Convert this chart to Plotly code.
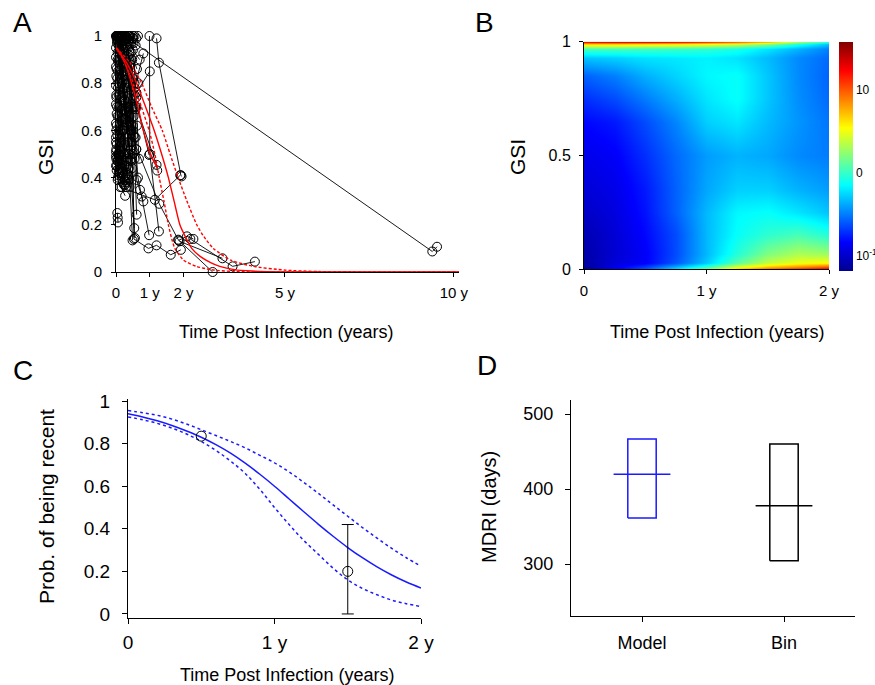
import plotly.graph_objects as go

FONT = "Liberation Sans, Arial, sans-serif"
W, H = 875, 685

# ---------------- Panel A data (time in years, GSI) ----------------
a_ind_t = [
    [0.0, 0.08, 0.2], [0.01, 0.1, 0.25], [0.02, 0.12, 0.3], [0.03, 0.15, 0.33],
    [0.05, 0.17, 0.36], [0.06, 0.2, 0.4], [0.08, 0.22, 0.42], [0.1, 0.25, 0.45],
    [0.12, 0.28, 0.48], [0.14, 0.3, 0.5], [0.16, 0.32, 0.55], [0.18, 0.35, 0.58],
    [0.2, 0.38, 0.6], [0.22, 0.4], [0.25, 0.45], [0.28, 0.5], [0.3, 0.55],
    [0.35, 0.6], [0.4, 0.5, 0.65], [0.0, 0.05, 0.15], [0.0, 0.06, 0.18],
    [0.0, 0.07, 0.2], [0.01, 0.08, 0.22], [0.0, 0.09, 0.25], [0.01, 0.1, 0.27],
    [0.0, 0.11, 0.3], [0.02, 0.12, 0.32], [0.0, 0.13, 0.34], [0.01, 0.14, 0.36],
    [0.0, 0.15, 0.38], [0.02, 0.16, 0.27], [0.0, 0.1, 0.2], [0.01, 0.08, 0.17],
    [0.0, 0.06, 0.3], [0.02, 0.05, 0.27], [0.04, 0.05, 0.06], [0.05, 0.2, 0.35],
    [0.08, 0.3, 0.45], [0.1, 0.4, 0.5],
    [0.03, 0.2, 0.4, 0.6], [0.05, 0.22, 0.45], [0.07, 0.25, 0.5], [0.02, 0.18, 0.38],
    [0.04, 0.16, 0.33], [0.06, 0.14, 0.29], [0.01, 0.12, 0.26], [0.03, 0.1, 0.23],
    [0.05, 0.09, 0.21], [0.02, 0.07, 0.19], [0.04, 0.06, 0.15], [0.0, 0.05, 0.12],
    [0.01, 0.04, 0.1], [0.0, 0.03, 0.08], [0.02, 0.09, 0.3, 0.45], [0.04, 0.11, 0.32, 0.52],
    [0.06, 0.13, 0.36, 0.57], [0.09, 0.18, 0.4], [0.11, 0.24, 0.5], [0.13, 0.27, 0.44],
    [0.15, 0.33, 0.52], [0.17, 0.37, 0.47], [0.19, 0.42, 0.6], [0.24, 0.48, 0.66],
    [0.27, 0.44, 0.62], [0.32, 0.5, 0.7], [0.38, 0.52], [0.42, 0.58],
    [0.12, 0.3, 0.4], [0.08, 0.25, 0.35], [0.2, 0.35, 0.55], [0.25, 0.4, 0.6],
    [0.3, 0.45, 0.58],
    [0.1, 0.35, 0.49], [0.15, 0.4, 0.56], [0.2, 0.45, 0.54], [0.25, 0.5, 0.61],
    [0.3, 0.55, 0.61, 0.71, 0.76, 0.81], [0.35, 0.65, 0.98], [0.99, 1.0, 1.27],
    [0.45, 0.53, 0.96, 1.2, 1.62, 1.92], [0.12, 1.15, 1.9], [1.2, 1.27, 1.92, 1.94],
    [0.55, 0.81], [0.6, 1.0], [0.35, 9.36, 9.5], [0.4, 1.28, 1.84, 2.86],
    [1.85, 2.1, 2.29], [1.88, 3.15], [2.2, 3.45, 4.11], [0.6, 1.2, 1.22],
    [0.55, 0.98], [0.5, 0.62, 0.68],
]
a_ind_gsi = [
    [1.0, 0.97, 0.92], [1.0, 0.93, 0.85], [1.0, 0.88, 0.78], [1.0, 0.84, 0.70],
    [1.0, 0.80, 0.64], [1.0, 0.76, 0.58], [1.0, 0.72, 0.52], [1.0, 0.68, 0.47],
    [1.0, 0.65, 0.44], [1.0, 0.9, 0.62], [1.0, 0.86, 0.57], [1.0, 0.95, 0.69],
    [1.0, 0.92, 0.76], [1.0, 0.98], [1.0, 0.97], [1.0, 0.99], [1.0, 1.0],
    [1.0, 0.99], [1.0, 1.0, 1.0], [0.95, 0.9, 0.82], [0.91, 0.85, 0.74],
    [0.87, 0.8, 0.66], [0.83, 0.75, 0.6], [0.79, 0.7, 0.54], [0.75, 0.66, 0.5],
    [0.71, 0.62, 0.47], [0.67, 0.58, 0.45], [0.63, 0.55, 0.48], [0.6, 0.52, 0.41],
    [0.57, 0.49, 0.39], [0.54, 0.46, 0.37], [0.51, 0.44, 0.38], [0.48, 0.42, 0.36],
    [0.45, 0.40, 0.36], [0.43, 0.39, 0.323], [0.25, 0.23, 0.21], [0.98, 0.6, 0.41],
    [0.96, 0.62, 0.48], [0.94, 0.7, 0.6],
    [0.97, 0.83, 0.66, 0.52], [0.93, 0.78, 0.55], [0.89, 0.73, 0.5], [0.86, 0.69, 0.44],
    [0.82, 0.64, 0.42], [0.78, 0.6, 0.4], [0.74, 0.57, 0.39], [0.7, 0.53, 0.37],
    [0.66, 0.5, 0.4], [0.62, 0.48, 0.42], [0.58, 0.47, 0.44], [0.55, 0.5, 0.46],
    [0.52, 0.47, 0.43], [0.49, 0.45, 0.41], [0.99, 0.9, 0.72, 0.62], [0.98, 0.86, 0.68, 0.58],
    [1.0, 0.94, 0.8, 0.7], [1.0, 0.96, 0.87], [0.99, 0.91, 0.82], [1.0, 0.89, 0.77],
    [1.0, 0.85, 0.66], [0.99, 0.8, 0.55], [1.0, 0.88, 0.74], [0.98, 0.9, 0.8],
    [1.0, 0.93, 0.86], [0.99, 0.94, 0.9], [1.0, 0.97], [1.0, 0.96],
    [0.42, 0.38, 0.36], [0.5, 0.45, 0.4], [0.6, 0.5, 0.48], [0.65, 0.55, 0.52],
    [0.7, 0.6, 0.57],
    [0.99, 0.55, 0.134], [0.97, 0.5, 0.144], [0.98, 0.6, 0.186], [0.99, 0.7, 0.243],
    [0.97, 0.8, 0.39, 0.348, 0.32, 0.299], [0.96, 0.4, 0.156], [1.0, 0.5, 0.172],
    [0.9, 0.14, 0.10, 0.113, 0.073, 0.094], [0.36, 0.306, 0.41], [0.99, 0.887, 0.41, 0.405],
    [0.78, 0.926], [0.76, 0.85], [0.99, 0.087, 0.107], [0.6, 0.289, 0.137, 0.0],
    [0.134, 0.151, 0.14], [0.13, 0.058], [0.14, 0.024, 0.044], [0.7, 0.454, 0.43],
    [0.75, 0.496], [0.99, 0.62, 0.48],
]

# red model curves in panel A
a_red_extra_t = [0.03, 0.25, 0.46, 0.65, 0.81, 0.95, 1.05, 1.2]
a_red_extra_g = [0.95, 0.89, 0.80, 0.70, 0.60, 0.53, 0.49, 0.447]
a_red_mid_t = [0.0, 0.3, 0.61, 0.9, 1.13, 1.35, 1.55, 1.72, 1.89, 2.05, 2.24, 2.5, 2.8, 3.07, 3.5, 4.0, 5.0, 10.15]
a_red_mid_g = [0.95, 0.89, 0.80, 0.69, 0.60, 0.50, 0.40, 0.30, 0.20, 0.15, 0.10, 0.065, 0.04, 0.024, 0.01, 0.004, 0.0005, 0.0]
a_red_lo_t = [0.0, 0.25, 0.51, 0.75, 0.98, 1.15, 1.28, 1.42, 1.55, 1.65, 1.74, 2.0, 2.38, 2.8, 3.5, 10.15]
a_red_lo_g = [0.95, 0.89, 0.80, 0.70, 0.60, 0.50, 0.40, 0.30, 0.20, 0.14, 0.10, 0.05, 0.024, 0.01, 0.002, 0.0]
a_red_hi_t = [0.0, 0.4, 0.76, 1.05, 1.37, 1.6, 1.84, 2.1, 2.39, 2.6, 2.88, 3.4, 4.06, 5.0, 6.0, 10.15]
a_red_hi_g = [0.95, 0.89, 0.80, 0.70, 0.60, 0.50, 0.40, 0.30, 0.20, 0.15, 0.10, 0.05, 0.024, 0.008, 0.002, 0.0]

a_xticks = [0, 1, 2, 5, 10]
a_xticktext = ["0", "1 y", "2 y", "5 y", "10 y"]
a_yticks = [0, 0.2, 0.4, 0.6, 0.8, 1]
a_yticktext = ["0", "0.2", "0.4", "0.6", "0.8", "1"]

# ---------------- Panel B data (log10 density) ----------------
b_t = [0.0, 0.25, 0.5, 0.75, 1.0, 1.25, 1.5, 1.75, 2.0]
b_gsi = [0.0, 0.01, 0.03, 0.07, 0.15, 0.25, 0.35, 0.5, 0.65, 0.75, 0.85, 0.93, 0.97, 0.99, 1.0]
b_log10 = [
    [-1.18, -0.90, -0.60, -0.20, 0.30, 0.80, 1.10, 1.30, 1.45],
    [-1.15, -0.88, -0.68, -0.35, 0.00, 0.45, 0.70, 0.85, 1.00],
    [-1.12, -0.95, -0.85, -0.60, -0.28, 0.10, 0.38, 0.50, 0.55],
    [-1.10, -0.97, -0.85, -0.63, -0.33, -0.05, 0.20, 0.32, 0.28],
    [-1.07, -0.96, -0.82, -0.63, -0.33, -0.13, -0.02, 0.05, -0.05],
    [-1.01, -0.93, -0.79, -0.57, -0.33, -0.16, -0.13, -0.21, -0.30],
    [-0.96, -0.90, -0.77, -0.57, -0.38, -0.27, -0.27, -0.35, -0.41],
    [-0.90, -0.85, -0.71, -0.55, -0.41, -0.35, -0.38, -0.46, -0.50],
    [-0.82, -0.77, -0.63, -0.47, -0.27, -0.21, -0.33, -0.43, -0.52],
    [-0.71, -0.63, -0.50, -0.36, -0.21, -0.13, -0.30, -0.45, -0.55],
    [-0.57, -0.49, -0.36, -0.26, -0.16, -0.13, -0.30, -0.46, -0.57],
    [-0.30, -0.27, -0.22, -0.20, -0.18, -0.22, -0.33, -0.46, -0.55],
    [0.05, 0.05, 0.03, 0.01, -0.02, -0.08, -0.21, -0.35, -0.49],
    [0.70, 0.70, 0.65, 0.62, 0.55, 0.45, 0.25, -0.05, -0.30],
    [1.30, 1.35, 1.35, 1.28, 1.15, 1.00, 0.75, 0.35, 0.00],
]
b_cbar_vals = [-1, 0, 1]
b_cbar_text = ["10<sup>-1</sup>", "0", "10"]
b_xticks = [0, 1, 2]
b_xticktext = ["0", "1 y", "2 y"]
b_yticks = [0, 0.5, 1]
b_yticktext = ["0", "0.5", "1"]

# ---------------- Panel C data ----------------
c_t = [0.0, 0.1, 0.2, 0.3, 0.4, 0.5, 0.6, 0.7, 0.8, 0.9, 1.0,
       1.1, 1.2, 1.3, 1.4, 1.5, 1.6, 1.7, 1.8, 1.9, 2.0]
c_prob = [0.940, 0.925, 0.907, 0.885, 0.859, 0.830, 0.795, 0.755, 0.708, 0.656, 0.600,
          0.540, 0.480, 0.421, 0.365, 0.312, 0.264, 0.221, 0.183, 0.150, 0.122]
c_prob_hi = [0.955, 0.945, 0.933, 0.915, 0.892, 0.865, 0.838, 0.810, 0.780, 0.745, 0.710,
             0.667, 0.618, 0.566, 0.512, 0.459, 0.406, 0.356, 0.308, 0.264, 0.224]
c_prob_lo = [0.925, 0.912, 0.895, 0.873, 0.845, 0.810, 0.768, 0.718, 0.660, 0.585, 0.500,
             0.420, 0.345, 0.280, 0.215, 0.160, 0.120, 0.090, 0.065, 0.048, 0.035]
c_bin_t = [0.5, 1.5]
c_bin_p = [0.835, 0.2]
c_bin_lo = [0.835, 0.0]
c_bin_hi = [0.835, 0.42]
c_xticks = [0, 1, 2]
c_xticktext = ["0", "1 y", "2 y"]
c_yticks = [0, 0.2, 0.4, 0.6, 0.8, 1]
c_yticktext = ["0", "0.2", "0.4", "0.6", "0.8", "1"]

# ---------------- Panel D data (MDRI, days) ----------------
d_cats = ["Model", "Bin"]
d_median = [419.6, 377.7]
d_lo = [361.3, 304.4]
d_hi = [466.7, 460.0]
d_colors = ["#1a1aff", "black"]
d_yticks = [300, 400, 500]

# =====================================================================
fig = go.Figure()

# Panel A trajectories
ax_x, ax_y = [], []
for ts, gs in zip(a_ind_t, a_ind_gsi):
    ax_x += ts + [None]
    ax_y += gs + [None]
fig.add_trace(go.Scatter(x=ax_x, y=ax_y, mode="lines+markers", xaxis="x", yaxis="y",
                         line=dict(color="black", width=0.9),
                         marker=dict(symbol="circle-open", size=9, color="black",
                                     line=dict(width=1, color="black")),
                         cliponaxis=False, showlegend=False, hoverinfo="skip"))
fig.add_trace(go.Scatter(x=a_red_extra_t, y=a_red_extra_g, mode="lines", xaxis="x", yaxis="y",
                         line=dict(color="red", width=1.4, shape="spline"), showlegend=False))
for tt, gg, dash in [(a_red_mid_t, a_red_mid_g, "solid"),
                     (a_red_lo_t, a_red_lo_g, "3px,2px"),
                     (a_red_hi_t, a_red_hi_g, "3px,2px")]:
    fig.add_trace(go.Scatter(x=tt, y=gg, mode="lines", xaxis="x", yaxis="y",
                             line=dict(color="red", width=1.4, dash=dash, shape="spline", smoothing=0.6),
                             cliponaxis=False, showlegend=False))

# Panel B heatmap
jet = [[0.0, "#00008f"], [0.125, "#0000ff"], [0.375, "#00ffff"],
       [0.625, "#ffff00"], [0.875, "#ff0000"], [1.0, "#800000"]]
fig.add_trace(go.Heatmap(x=b_t, y=b_gsi, z=b_log10, xaxis="x2", yaxis="y2",
                         colorscale=jet, zmin=-1.18, zmax=1.58, zsmooth="best",
                         colorbar=dict(x=839 / W, xanchor="left", y=1 - 271 / H, yanchor="bottom",
                                       len=229 / H, lenmode="fraction", thickness=14,
                                       thicknessmode="pixels", outlinewidth=0,
                                       tickvals=b_cbar_vals, ticktext=b_cbar_text,
                                       ticks="", ticklabelposition="outside",
                                       tickfont=dict(family=FONT, size=12, color="black"),
                                       xpad=0, ypad=0)))

# Panel C
fig.add_trace(go.Scatter(x=c_t, y=c_prob, mode="lines", xaxis="x3", yaxis="y3",
                         line=dict(color="#1a1aff", width=1.5, shape="spline"), showlegend=False))
for arr in (c_prob_hi, c_prob_lo):
    fig.add_trace(go.Scatter(x=c_t, y=arr, mode="lines", xaxis="x3", yaxis="y3",
                             line=dict(color="#1a1aff", width=1.5, dash="dot", shape="spline"),
                             showlegend=False))
err_idx = [i for i in range(len(c_bin_t)) if c_bin_hi[i] > c_bin_lo[i]]
fig.add_trace(go.Scatter(x=[c_bin_t[i] for i in err_idx], y=[c_bin_p[i] for i in err_idx],
                         mode="markers", marker=dict(size=1, color="rgba(0,0,0,0)"),
                         xaxis="x3", yaxis="y3", showlegend=False,
                         error_y=dict(type="data", symmetric=False,
                                      array=[c_bin_hi[i] - c_bin_p[i] for i in err_idx],
                                      arrayminus=[c_bin_p[i] - c_bin_lo[i] for i in err_idx],
                                      color="black", thickness=1, width=6), cliponaxis=False))
fig.add_trace(go.Scatter(x=c_bin_t, y=c_bin_p, mode="markers", xaxis="x3", yaxis="y3",
                         marker=dict(symbol="circle-open", size=10, color="black",
                                     line=dict(width=1, color="black")),
                         cliponaxis=False, showlegend=False))

# Panel D
for i, cat in enumerate(d_cats):
    pos = i + 1
    fig.add_trace(go.Scatter(x=[pos - 0.1, pos + 0.1, pos + 0.1, pos - 0.1, pos - 0.1],
                             y=[d_lo[i], d_lo[i], d_hi[i], d_hi[i], d_lo[i]],
                             mode="lines", xaxis="x4", yaxis="y4",
                             line=dict(color=d_colors[i], width=1.5), showlegend=False))
    fig.add_trace(go.Scatter(x=[pos - 0.2, pos + 0.2], y=[d_median[i], d_median[i]],
                             mode="lines", xaxis="x4", yaxis="y4",
                             line=dict(color=d_colors[i], width=1.5), showlegend=False))


def axis(domain, rng, tickvals, ticktext, size, ticklen=4, standoff=2, anchor=None):
    d = dict(domain=domain, range=rng, tickvals=tickvals, ticktext=ticktext,
             showline=True, linecolor="black", linewidth=1, ticks="outside",
             ticklen=ticklen, tickwidth=1, tickcolor="black", showgrid=False,
             zeroline=False, fixedrange=True, ticklabelstandoff=standoff,
             automargin=False,
             tickfont=dict(family=FONT, size=size, color="black"))
    if anchor:
        d["anchor"] = anchor
    return d


fig.update_layout(
    width=W, height=H, margin=dict(l=0, r=0, t=0, b=0, autoexpand=False),
    paper_bgcolor="white", plot_bgcolor="white", showlegend=False,
    xaxis=axis([116 / W, 459 / W], [0, 10.15], a_xticks, a_xticktext, 15, 4, 3, "y"),
    yaxis=axis([1 - 272 / H, 1 - 36 / H], [0, 1], a_yticks, a_yticktext, 15, 4, 6, "x"),
    xaxis2=axis([584 / W, 829 / W], [0, 2], b_xticks, b_xticktext, 15, 4, 4, "y2"),
    yaxis2=axis([1 - 269.3 / H, 1 - 41.7 / H], [0, 1], b_yticks, b_yticktext, 16, 4, 5, "x2"),
    xaxis3=axis([128 / W, 421 / W], [0, 2], c_xticks, c_xticktext, 19, 5, 2, "y3"),
    yaxis3=axis([1 - 618 / H, 1 - 398.9 / H], [-0.019, 1.01], c_yticks, c_yticktext, 19, 5, 8, "x3"),
    xaxis4=axis([571 / W, 855 / W], [0.5, 2.5], [1, 2], d_cats, 18, 5, 5, "y4"),
    yaxis4=axis([1 - 616 / H, 1 - 400 / H], [230.7, 518.7], d_yticks,
                [str(v) for v in d_yticks], 18, 5, 8, "x4"),
)


def note(text, x, y, size, angle=0):
    fig.add_annotation(text=text, x=x / W, y=1 - y / H, xref="paper", yref="paper",
                       showarrow=False, textangle=angle, xanchor="center", yanchor="middle",
                       font=dict(family=FONT, size=size, color="black"))


note("A", 22.5, 22, 28)
note("B", 484.5, 22, 28)
note("C", 23, 370, 28)
note("D", 486.5, 365, 28)
note("Time Post Infection (years)", 286, 332, 18)
note("Time Post Infection (years)", 717, 332, 18)
note("Time Post Infection (years)", 286.5, 675, 18)
note("GSI", 45, 157, 21, -90)
note("GSI", 517, 157, 21, -90)
note("Prob. of being recent", 46, 507, 21, -90)
note("MDRI (days)", 488.5, 507.5, 20, -90)

fig.write_html("out.html", config={"displayModeBar": False},
               post_script="document.body.style.margin='0';document.body.style.overflow='hidden';")
